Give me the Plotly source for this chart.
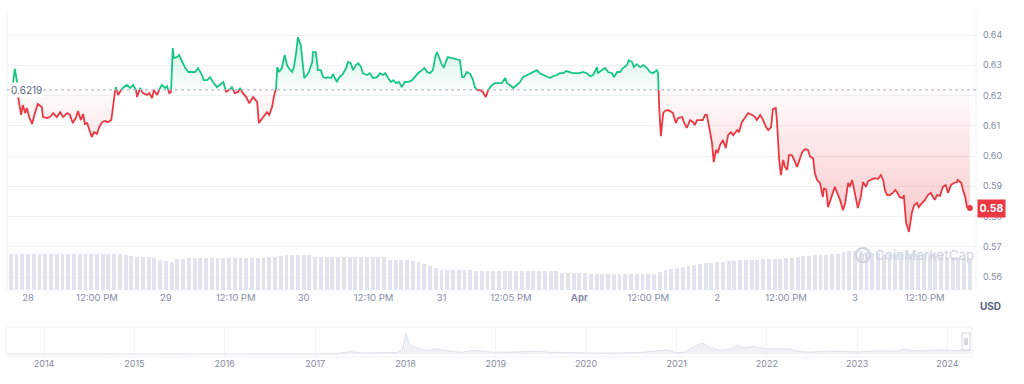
import plotly.graph_objects as go
from datetime import datetime, timedelta

# ---------------- data ----------------
BASE_TIME = datetime(2024, 3, 28, 0, 0)   # "28"
OPEN_PRICE = 0.6219
LAST_LABEL = "0.58"

# hours since Mar 28 00:00 and XRP price (USD)
hours = [-2.6, -2.3, -1.9, -1.7, -1.2, -0.9, -0.5, -0.2, 0.2, 0.7, 1.2, 1.7, 2.4, 2.6, 3.3, 3.8, 4.4, 5.0, 5.6, 6.1,
         6.8, 7.3, 7.8, 8.4, 8.7, 9.2, 9.6, 9.9, 10.3, 10.6, 11.1, 11.5, 12.0, 12.4, 12.9, 13.4, 13.9, 14.5, 14.8, 15.1,
         15.3, 15.7, 16.2, 16.5, 17.2, 17.8, 18.3, 18.8, 19.0, 19.5, 20.0, 20.7, 21.1, 21.6, 21.9, 22.5, 22.8, 23.3, 23.9, 24.2,
         24.6, 24.9, 25.2, 25.4, 25.9, 26.3, 27.0, 27.3, 27.9, 28.6, 29.1, 29.6, 30.3, 30.6, 31.2, 31.7, 32.2, 32.9, 33.4, 34.0,
         34.5, 35.0, 35.5, 36.0, 36.6, 36.9, 37.4, 38.0, 38.5, 39.2, 39.9, 40.2, 40.9, 41.6, 42.0, 42.5, 42.8, 43.2, 43.4, 43.7,
         44.2, 44.7, 45.1, 45.4, 46.0, 46.3, 46.7, 47.0, 47.5, 47.9, 48.1, 48.6, 48.9, 49.5, 49.6, 50.1, 50.5, 51.0, 51.4, 51.9,
         52.2, 52.8, 53.1, 53.8, 54.2, 54.8, 55.4, 55.7, 56.2, 56.6, 57.1, 57.5, 58.0, 58.3, 59.0, 59.5, 60.1, 60.8, 61.3, 61.8,
         62.2, 62.7, 63.2, 63.6, 64.1, 64.6, 65.1, 65.6, 66.2, 66.9, 67.4, 67.9, 68.6, 69.0, 69.5, 70.0, 70.5, 70.9, 71.2, 71.6,
         72.1, 72.4, 72.8, 73.1, 73.8, 74.7, 75.2, 75.6, 75.9, 76.4, 77.0, 77.5, 77.8, 78.2, 78.7, 79.2, 79.7, 80.1, 80.8, 81.3,
         81.8, 82.5, 83.1, 83.4, 83.9, 84.5, 85.1, 85.7, 86.2, 86.9, 87.4, 87.9, 88.6, 89.1, 89.7, 90.4, 90.9, 91.4, 92.1, 92.6,
         93.2, 93.7, 94.4, 94.9, 95.6, 96.1, 96.6, 97.3, 97.9, 98.4, 99.1, 99.2, 99.9, 100.5, 101.0, 101.7, 102.0, 102.6, 103.1, 103.6,
         104.3, 104.6, 105.2, 105.5, 106.0, 106.6, 107.1, 107.8, 108.3, 108.8, 109.5, 109.7, 109.9, 110.2, 110.6, 110.9, 111.4, 112.1, 112.3, 112.8,
         113.2, 113.9, 114.2, 114.7, 115.3, 115.8, 116.1, 116.5, 117.0, 117.5, 117.9, 118.2, 118.8, 119.1, 119.4, 119.8, 120.1, 120.5, 121.0, 121.5,
         121.9, 122.4, 122.8, 123.5, 123.8, 124.3, 124.8, 125.4, 126.1, 126.6, 126.9, 127.5, 128.0, 128.5, 128.9, 129.4, 129.7, 130.2, 130.4, 130.8,
         131.1, 131.5, 131.8, 132.2, 132.5, 133.0, 133.4, 133.9, 134.2, 134.8, 135.3, 135.8, 136.2, 136.7, 137.0, 137.4, 137.9, 138.4, 138.6, 139.0,
         139.3, 139.8, 140.2, 140.5, 140.9, 141.4, 141.9, 142.3, 142.8, 143.1, 143.5, 143.8, 144.3, 144.5, 145.0, 145.4, 145.9, 146.3, 147.0, 147.5,
         148.0, 148.5, 148.9, 149.2, 149.6, 150.1, 150.6, 151.0, 151.3, 151.8, 152.4, 152.5, 152.9, 153.1, 153.4, 153.9, 154.3, 154.8, 155.1, 155.7,
         156.2, 156.7, 157.2, 157.6, 157.9, 158.3, 158.8, 159.3, 159.8, 160.2, 160.7, 161.2, 161.8, 161.9, 162.5, 162.8, 163.2, 163.5, 164.0]

prices = [0.6241, 0.6288, 0.6245, 0.6192, 0.6136, 0.6169, 0.6142, 0.6159, 0.6129, 0.6106, 0.6142, 0.6172, 0.6162, 0.6129, 0.6126, 0.6129, 0.6142, 0.6129, 0.6145, 0.6129,
          0.6142, 0.6136, 0.6109, 0.6129, 0.6149, 0.6119, 0.6139, 0.6106, 0.6109, 0.6093, 0.6063, 0.6079, 0.6073, 0.6096, 0.6112, 0.6116, 0.6112, 0.6119, 0.6169, 0.6212,
          0.6228, 0.6202, 0.6218, 0.6225, 0.6235, 0.6225, 0.6235, 0.6218, 0.6195, 0.6225, 0.6208, 0.6202, 0.6208, 0.6192, 0.6218, 0.6202, 0.6218, 0.6235, 0.6225, 0.6231,
          0.6208, 0.6212, 0.6357, 0.6324, 0.6327, 0.6334, 0.6307, 0.6294, 0.6278, 0.6278, 0.6278, 0.6291, 0.6268, 0.6251, 0.6251, 0.6261, 0.6245, 0.6228, 0.6235, 0.6245,
          0.6212, 0.6218, 0.6228, 0.6208, 0.6212, 0.6225, 0.6208, 0.6195, 0.6175, 0.6195, 0.6179, 0.6109, 0.6129, 0.6145, 0.6136, 0.6162, 0.6195, 0.6225, 0.6294, 0.6278,
          0.6291, 0.6334, 0.6301, 0.6291, 0.6278, 0.6294, 0.6344, 0.6393, 0.6367, 0.6294, 0.6258, 0.6268, 0.6278, 0.6311, 0.6344, 0.6344, 0.6284, 0.6284, 0.6261, 0.6258,
          0.6261, 0.6258, 0.6271, 0.6245, 0.6261, 0.6271, 0.6291, 0.6311, 0.6307, 0.6284, 0.6301, 0.6307, 0.6294, 0.6274, 0.6268, 0.6274, 0.6258, 0.6261, 0.6274, 0.6268,
          0.6274, 0.6258, 0.6245, 0.6251, 0.6241, 0.6245, 0.6228, 0.6245, 0.6245, 0.6251, 0.6261, 0.6274, 0.6284, 0.6291, 0.6278, 0.6274, 0.6284, 0.6327, 0.6344, 0.6324,
          0.6301, 0.6294, 0.6311, 0.6327, 0.6324, 0.6321, 0.6317, 0.6261, 0.6261, 0.6278, 0.6271, 0.6251, 0.6228, 0.6218, 0.6218, 0.6212, 0.6195, 0.6218, 0.6235, 0.6241,
          0.6241, 0.6241, 0.6258, 0.6241, 0.6235, 0.6225, 0.6235, 0.6245, 0.6261, 0.6268, 0.6274, 0.6278, 0.6284, 0.6274, 0.6268, 0.6261, 0.6258, 0.6264, 0.6268, 0.6274,
          0.6274, 0.6281, 0.6278, 0.6274, 0.6274, 0.6274, 0.6278, 0.6274, 0.6264, 0.6268, 0.6294, 0.6274, 0.6284, 0.6291, 0.6278, 0.6274, 0.6261, 0.6278, 0.6278, 0.6291,
          0.6301, 0.6317, 0.6311, 0.6294, 0.6304, 0.6294, 0.6301, 0.6291, 0.6278, 0.6274, 0.6284, 0.6274, 0.6162, 0.6066, 0.6142, 0.6149, 0.6152, 0.6145, 0.6142, 0.6109,
          0.6126, 0.6129, 0.6112, 0.6093, 0.6119, 0.6112, 0.6102, 0.6119, 0.6119, 0.6119, 0.6136, 0.6136, 0.6076, 0.6043, 0.5980, 0.6020, 0.6010, 0.6036, 0.6053, 0.6026,
          0.6069, 0.6079, 0.6069, 0.6086, 0.6079, 0.6112, 0.6126, 0.6142, 0.6136, 0.6129, 0.6119, 0.6136, 0.6119, 0.6096, 0.6086, 0.6096, 0.6155, 0.6159, 0.6119, 0.5987,
          0.5937, 0.5987, 0.5964, 0.5954, 0.6003, 0.6003, 0.5987, 0.5964, 0.5980, 0.6013, 0.6023, 0.6020, 0.5997, 0.5993, 0.5944, 0.5921, 0.5911, 0.5864, 0.5894, 0.5888,
          0.5831, 0.5861, 0.5888, 0.5898, 0.5878, 0.5855, 0.5821, 0.5845, 0.5911, 0.5898, 0.5921, 0.5894, 0.5855, 0.5828, 0.5864, 0.5914, 0.5898, 0.5917, 0.5924, 0.5927,
          0.5924, 0.5937, 0.5921, 0.5888, 0.5871, 0.5871, 0.5878, 0.5888, 0.5881, 0.5864, 0.5861, 0.5871, 0.5779, 0.5765, 0.5749, 0.5812, 0.5838, 0.5845, 0.5831, 0.5845,
          0.5855, 0.5871, 0.5878, 0.5864, 0.5855, 0.5871, 0.5868, 0.5898, 0.5904, 0.5878, 0.5904, 0.5911, 0.5914, 0.5921, 0.5911, 0.5888, 0.5864, 0.5831, 0.5828]

# hourly 24h volume (billion USD), hours since Mar 28 00:00
vol_hours = list(range(-3, 165))
volumes = [2.19, 2.19, 2.19, 2.19, 2.19, 2.19,
           2.16, 2.16, 2.16, 2.16, 2.16, 2.16, 2.16, 2.16, 2.16, 2.16, 2.16, 2.16, 2.16, 2.16,
           2.10, 2.04, 2.01, 2.01, 1.98, 1.92, 1.80, 1.74, 1.68,
           1.86, 1.89, 1.92, 1.92, 1.92, 1.92, 1.92, 1.92, 1.92, 1.92, 1.92, 1.92, 1.92, 1.92, 1.95, 1.95, 1.98, 2.01, 2.04,
           2.10, 2.10, 2.10, 2.10, 2.10,
           1.98, 1.98, 1.98, 1.98, 1.98, 1.98, 1.98, 1.98, 1.98, 1.98, 1.98, 1.98, 1.98,
           1.80, 1.80, 1.80, 1.80, 1.74, 1.68,
           1.56, 1.44, 1.32,
           1.20, 1.20, 1.20, 1.20, 1.20, 1.20, 1.17, 1.17, 1.17, 1.17, 1.17, 1.17, 1.17, 1.14, 1.14, 1.14, 1.14, 1.14, 1.14, 1.14, 1.14,
           1.05, 1.02, 1.02, 1.02, 1.02, 0.99, 0.99,
           0.96, 0.96, 0.96, 0.96, 0.96, 0.96, 0.96, 0.96, 0.96, 0.99,
           1.08, 1.20, 1.26, 1.32, 1.38, 1.44, 1.50,
           1.56, 1.62, 1.62, 1.68, 1.68, 1.74, 1.74,
           1.80, 1.80, 1.83, 1.83, 1.86, 1.86, 1.89, 1.89, 1.92, 1.92, 1.98,
           2.04, 2.07, 2.10, 2.10, 2.13, 2.16, 2.16,
           2.28, 2.34, 2.34, 2.34, 2.28,
           2.22, 2.22, 2.19, 2.19, 2.16, 2.16, 2.16, 2.16, 2.16, 2.16, 2.16, 2.16,
           2.04, 1.98, 1.98, 1.92, 1.92, 1.86]

# navigator: all-time price history
nav_dates = ["2013-08-04", "2013-12-20", "2014-02-01", "2014-06-01", "2014-12-20", "2015-03-01", "2015-08-01", "2016-01-01",
             "2016-09-01", "2017-01-01", "2017-03-20", "2017-04-05", "2017-05-17", "2017-06-10", "2017-07-15", "2017-09-01",
             "2017-10-20", "2017-12-01", "2017-12-20", "2018-01-04", "2018-01-12", "2018-01-25", "2018-02-10", "2018-03-10",
             "2018-04-05", "2018-05-01", "2018-06-15", "2018-08-15", "2018-09-21", "2018-11-10", "2018-12-15", "2019-03-01",
             "2019-06-25", "2019-08-01", "2019-10-01", "2019-12-31", "2020-03-15", "2020-06-01", "2020-08-15", "2020-11-24",
             "2020-12-29", "2021-02-01", "2021-02-10", "2021-04-14", "2021-05-01", "2021-05-20", "2021-06-25", "2021-08-01",
             "2021-09-06", "2021-10-01", "2021-11-10", "2021-12-31", "2022-02-10", "2022-04-01", "2022-05-15", "2022-06-18",
             "2022-09-23", "2022-11-10", "2022-12-31", "2023-03-29", "2023-06-10", "2023-07-13", "2023-08-20", "2023-10-01",
             "2023-11-13", "2024-01-01", "2024-02-01", "2024-03-11", "2024-04-03"]
nav_prices = [0.005, 0.03, 0.025, 0.006, 0.02, 0.01, 0.008, 0.006,
              0.007, 0.006, 0.03, 0.06, 0.38, 0.28, 0.18, 0.22,
              0.21, 0.25, 0.80, 3.30, 1.90, 1.30, 1.05, 0.70,
              0.55, 0.85, 0.55, 0.28, 0.55, 0.50, 0.30, 0.31,
              0.48, 0.31, 0.26, 0.19, 0.15, 0.20, 0.29, 0.65,
              0.20, 0.30, 0.55, 1.80, 1.40, 0.95, 0.62, 0.75,
              1.35, 0.95, 1.20, 0.83, 0.85, 0.82, 0.40, 0.32,
              0.48, 0.38, 0.34, 0.52, 0.47, 0.82, 0.52, 0.50,
              0.68, 0.62, 0.52, 0.72, 0.58]

# tick labels
x_tick_hours = [0, 12, 24, 36 + 10 / 60, 48, 60 + 10 / 60, 72, 84 + 5 / 60, 96, 108, 120, 132, 144, 156 + 10 / 60]
x_tick_text = ["28", "12:00 PM", "29", "12:10 PM", "30", "12:10 PM", "31", "12:05 PM", "<b>Apr</b>",
               "12:00 PM", "2", "12:00 PM", "3", "12:10 PM"]
y_ticks = [0.56, 0.57, 0.58, 0.59, 0.60, 0.61, 0.62, 0.63, 0.64]
year_ticks = ["2014-01-01", "2015-01-01", "2016-01-01", "2017-01-01", "2018-01-01", "2019-01-01",
              "2020-01-01", "2021-01-01", "2022-01-01", "2023-01-01", "2024-01-01"]
year_labels = ["2014", "2015", "2016", "2017", "2018", "2019", "2020", "2021", "2022", "2023", "2024"]

# ---------------- styling ----------------
GREEN = "#16c784"
RED = "#ea3943"
GRID = "#eff2f5"
TXT = "#858ca2"
W, H = 1024, 384
ML, MR = 7, 48
PW = W - ML - MR


def px_x(px):
    return (px - ML) / PW


def px_y(py):
    return 1 - py / H


ts = [BASE_TIME + timedelta(hours=h) for h in hours]

# split line into runs above / below the opening price (crossings found for colouring)
aug_t, aug_p = [ts[0]], [prices[0]]
runs = []
side = prices[0] >= OPEN_PRICE
cur_t, cur_p = [ts[0]], [prices[0]]
for i in range(1, len(prices)):
    a, b = prices[i - 1], prices[i]
    sb = b >= OPEN_PRICE
    if sb != side:
        f = (OPEN_PRICE - a) / (b - a)
        tc = ts[i - 1] + (ts[i] - ts[i - 1]) * f
        cur_t.append(tc); cur_p.append(OPEN_PRICE)
        runs.append((side, cur_t, cur_p))
        aug_t.append(tc); aug_p.append(OPEN_PRICE)
        side = sb
        cur_t, cur_p = [tc], [OPEN_PRICE]
    cur_t.append(ts[i]); cur_p.append(b)
    aug_t.append(ts[i]); aug_p.append(b)
runs.append((side, cur_t, cur_p))

fig = go.Figure()

# volume bars
vol_t = [BASE_TIME + timedelta(hours=h) for h in vol_hours]
fig.add_trace(go.Bar(x=vol_t, y=volumes, yaxis="y2", marker=dict(color="#dfe4ee", line=dict(width=0)),
                     width=0.68 * 3600 * 1000, hoverinfo="skip", showlegend=False))

# fills
fig.add_trace(go.Scatter(x=aug_t, y=[OPEN_PRICE] * len(aug_t), mode="lines", line=dict(width=0),
                         hoverinfo="skip", showlegend=False))
fig.add_trace(go.Scatter(x=aug_t, y=[max(p, OPEN_PRICE) for p in aug_p], mode="lines", line=dict(width=0),
                         fill="tonexty",
                         fillgradient=dict(type="vertical", start=OPEN_PRICE, stop=0.64,
                                           colorscale=[[0, "rgba(22,199,132,0.02)"], [1, "rgba(22,199,132,0.22)"]]),
                         hoverinfo="skip", showlegend=False))
fig.add_trace(go.Scatter(x=aug_t, y=[OPEN_PRICE] * len(aug_t), mode="lines", line=dict(width=0),
                         hoverinfo="skip", showlegend=False))
fig.add_trace(go.Scatter(x=aug_t, y=[min(p, OPEN_PRICE) for p in aug_p], mode="lines", line=dict(width=0),
                         fill="tonexty",
                         fillgradient=dict(type="vertical", start=0.575, stop=OPEN_PRICE,
                                           colorscale=[[0, "rgba(234,57,67,0.28)"], [1, "rgba(234,57,67,0.02)"]]),
                         hoverinfo="skip", showlegend=False))

# coloured price line
for up in (True, False):
    xs, ys = [], []
    for s, rt, rp in runs:
        if s == up:
            xs += rt + [None]
            ys += rp + [None]
    fig.add_trace(go.Scatter(x=xs, y=ys, mode="lines", line=dict(color=GREEN if up else RED, width=1.8),
                             hoverinfo="skip", showlegend=False))

# last point marker
fig.add_trace(go.Scatter(x=[ts[-1]], y=[prices[-1]], mode="markers",
                         marker=dict(color=RED, size=6), hoverinfo="skip", showlegend=False))

# navigator
fig.add_trace(go.Scatter(x=nav_dates, y=nav_prices, xaxis="x2", yaxis="y3", mode="lines",
                         line=dict(color="#dde2ea", width=1), fill="tozeroy", fillcolor="#f0f2f6",
                         hoverinfo="skip", showlegend=False))

x_start = BASE_TIME - timedelta(hours=3.66)
x_end = BASE_TIME + timedelta(hours=165.07)

fig.update_layout(
    width=W, height=H,
    margin=dict(l=ML, r=MR, t=0, b=0, autoexpand=False),
    paper_bgcolor="white", plot_bgcolor="white",
    font=dict(family="Inter, Roboto, sans-serif", color=TXT, size=9),
    bargap=0,
    hovermode=False,
    xaxis=dict(domain=[0, 1], anchor="y", range=[x_start, x_end], showgrid=False, zeroline=False,
               tickmode="array", tickvals=[BASE_TIME + timedelta(hours=h) for h in x_tick_hours],
               ticktext=x_tick_text, tickfont=dict(size=9.5, color=TXT), ticks="", showline=False,
               automargin=False),
    yaxis=dict(domain=[px_y(290), px_y(10)], side="right", range=[0.5557, 0.6483],
               tickvals=y_ticks, tickformat=".2f", gridcolor=GRID, gridwidth=1, zeroline=False,
               tickfont=dict(size=9, color=TXT), ticks="", ticklabelstandoff=6, showline=False,
               automargin=False),
    yaxis2=dict(overlaying="y", range=[0, 16.8], visible=False, automargin=False),
    xaxis2=dict(domain=[0, px_x(971)], anchor="y3", range=["2013-08-04", "2024-04-05"],
                tickmode="array", tickvals=year_ticks, ticktext=year_labels,
                showgrid=True, gridcolor="#f3f5f8", zeroline=False, ticks="",
                tickfont=dict(size=9, color=TXT), showline=False, automargin=False),
    yaxis3=dict(domain=[px_y(357), px_y(328)], range=[-0.45, 4.1], visible=False, automargin=False),
)

shapes = []
# plot borders
shapes.append(dict(type="line", xref="paper", yref="paper", x0=0, x1=0, y0=px_y(290), y1=px_y(10),
                   line=dict(color=GRID, width=1)))
shapes.append(dict(type="line", xref="paper", yref="paper", x0=1, x1=1, y0=px_y(290), y1=px_y(10),
                   line=dict(color=GRID, width=1)))
# opening price dotted line
shapes.append(dict(type="line", xref="paper", yref="y", x0=0, x1=1, y0=OPEN_PRICE, y1=OPEN_PRICE,
                   line=dict(color="#a6b0c3", width=1, dash="dot")))
# navigator frame
shapes.append(dict(type="rect", xref="paper", yref="paper", x0=px_x(6), x1=px_x(972), y0=px_y(357), y1=px_y(327),
                   line=dict(color="#eff2f5", width=1)))
# navigator handle
shapes.append(dict(type="rect", xref="paper", yref="paper", x0=px_x(962), x1=px_x(970), y0=px_y(350), y1=px_y(333),
                   line=dict(color="#cfd6e4", width=1), fillcolor="white"))
shapes.append(dict(type="line", xref="paper", yref="paper", x0=px_x(965), x1=px_x(965), y0=px_y(345), y1=px_y(338),
                   line=dict(color="#a6b0c3", width=1)))
shapes.append(dict(type="line", xref="paper", yref="paper", x0=px_x(967), x1=px_x(967), y0=px_y(345), y1=px_y(338),
                   line=dict(color="#a6b0c3", width=1)))
# watermark logo
shapes.append(dict(type="circle", xref="paper", yref="paper", x0=px_x(856), x1=px_x(870), y0=px_y(262), y1=px_y(248),
                   line=dict(color="#cdd3de", width=2)))
fig.update_layout(shapes=shapes)

annotations = [
    dict(text="0.6219", xref="paper", yref="y", x=px_x(9), y=OPEN_PRICE, xanchor="left", yanchor="middle",
         showarrow=False, font=dict(size=10, color="#58667e"), bgcolor="white", borderpad=1),
    dict(text="<b>" + LAST_LABEL + "</b>", xref="paper", yref="y", x=px_x(977), y=prices[-1], xanchor="left",
         yanchor="middle", showarrow=False, font=dict(size=10.5, color="white"), bgcolor=RED, borderpad=2,
         width=23),
    dict(text="<b>USD</b>", xref="paper", yref="paper", x=px_x(990), y=px_y(306), xanchor="center",
         yanchor="middle", showarrow=False, font=dict(size=10, color="#58667e")),
    dict(text="CoinMarketCap", xref="paper", yref="paper", x=px_x(873), y=px_y(255), xanchor="left",
         yanchor="middle", showarrow=False, font=dict(size=13.5, color="#cdd3de")),
    dict(text="m", xref="paper", yref="paper", x=px_x(863), y=px_y(256), xanchor="center",
         yanchor="middle", showarrow=False, font=dict(size=10, color="#cdd3de")),
]
fig.update_layout(annotations=annotations)

# the page's default body margin would offset the figure; remove it
fig.write_html("out.html", config={"displayModeBar": False, "staticPlot": True},
               post_script="document.body.style.margin='0';document.body.style.overflow='hidden';")
